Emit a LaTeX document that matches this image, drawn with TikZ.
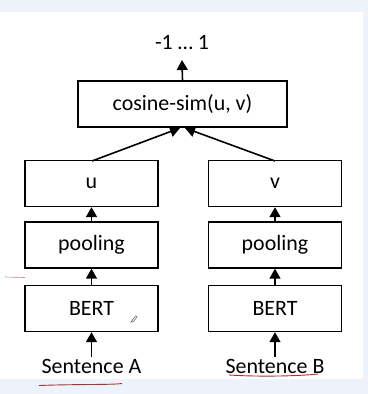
\documentclass[tikz,border=0pt]{standalone}
\usepackage{fontspec}
\setmainfont{Carlito}
\usetikzlibrary{arrows.meta}
\definecolor{bgblue}{HTML}{EDF2FB}
\definecolor{inkred}{HTML}{B03030}
\tikzset{
  blk/.style={draw=black, line width=1.4bp, minimum height=46bp, inner sep=0pt, font=\fontsize{22}{24}\selectfont},
  wide/.style={blk, minimum width=209bp},
  narrow/.style={blk, minimum width=133bp},
  lbl/.style={inner sep=0pt, font=\fontsize{22}{24}\selectfont},
  conn/.style={line width=1.6bp, -{Triangle[width=11bp,length=10bp]}},
  redline/.style={draw=inkred, line width=0.9bp}
}
\begin{document}
\begin{tikzpicture}[x=1bp,y=-1bp]
\useasboundingbox (0,0) rectangle (368,394);
\fill[bgblue] (0,0) rectangle (368,394);
\fill[white] (0,12) rectangle (363,379);
% top
\node[lbl] (out) at (182,43) {-1 … 1};
\node[wide] (cos) at (182.5,104) {cosine-sim(u, v)};
% left column
\node[narrow] (u) at (91.5,183.5) {u};
\node[narrow] (pa) at (91.5,245) {pooling};
\node[narrow] (ba) at (91.5,308.5) {BERT};
\node[lbl] (sa) at (91.5,366) {Sentence A};
% right column
\node[narrow] (v) at (275,183.5) {v};
\node[narrow] (pb) at (275,245) {pooling};
\node[narrow] (bb) at (275,308.5) {BERT};
\node[lbl] (sb) at (275,366) {Sentence B};
% connectors
\coordinate (outbot) at (182,60);
\draw[conn] (cos.north) -- (outbot);
\coordinate (ua) at (92,161);
\coordinate (vb) at (275,161);
\coordinate (cina) at (180,128);
\coordinate (cinb) at (185,128);
\draw[conn] (ua) -- (cina);
\draw[conn] (vb) -- (cinb);
\draw[conn] (pa.north) -- (u.south);
\draw[conn] (ba.north) -- (pa.south);
\draw[conn] (sa.north) ++(0,-2) -- (ba.south);
\draw[conn] (pb.north) -- (v.south);
\draw[conn] (bb.north) -- (pb.south);
\draw[conn] (sb.north) ++(0,-2) -- (bb.south);
% red ink marks
\draw[redline] (39,385.5) .. controls (80,384) and (110,385) .. (122,383.5);
\draw[redline] (229,375) .. controls (260,377) and (300,376) .. (318,374);
\draw[draw=inkred!60, line width=0.6bp] (5,277) -- (25,277.5);
% pencil cursor
\draw[line width=0.5bp, gray!70!black] (131,322) -- (133.5,321.5) -- (137,317) -- (135.5,316) -- (132,320.5) -- cycle;
\end{tikzpicture}
\end{document}
